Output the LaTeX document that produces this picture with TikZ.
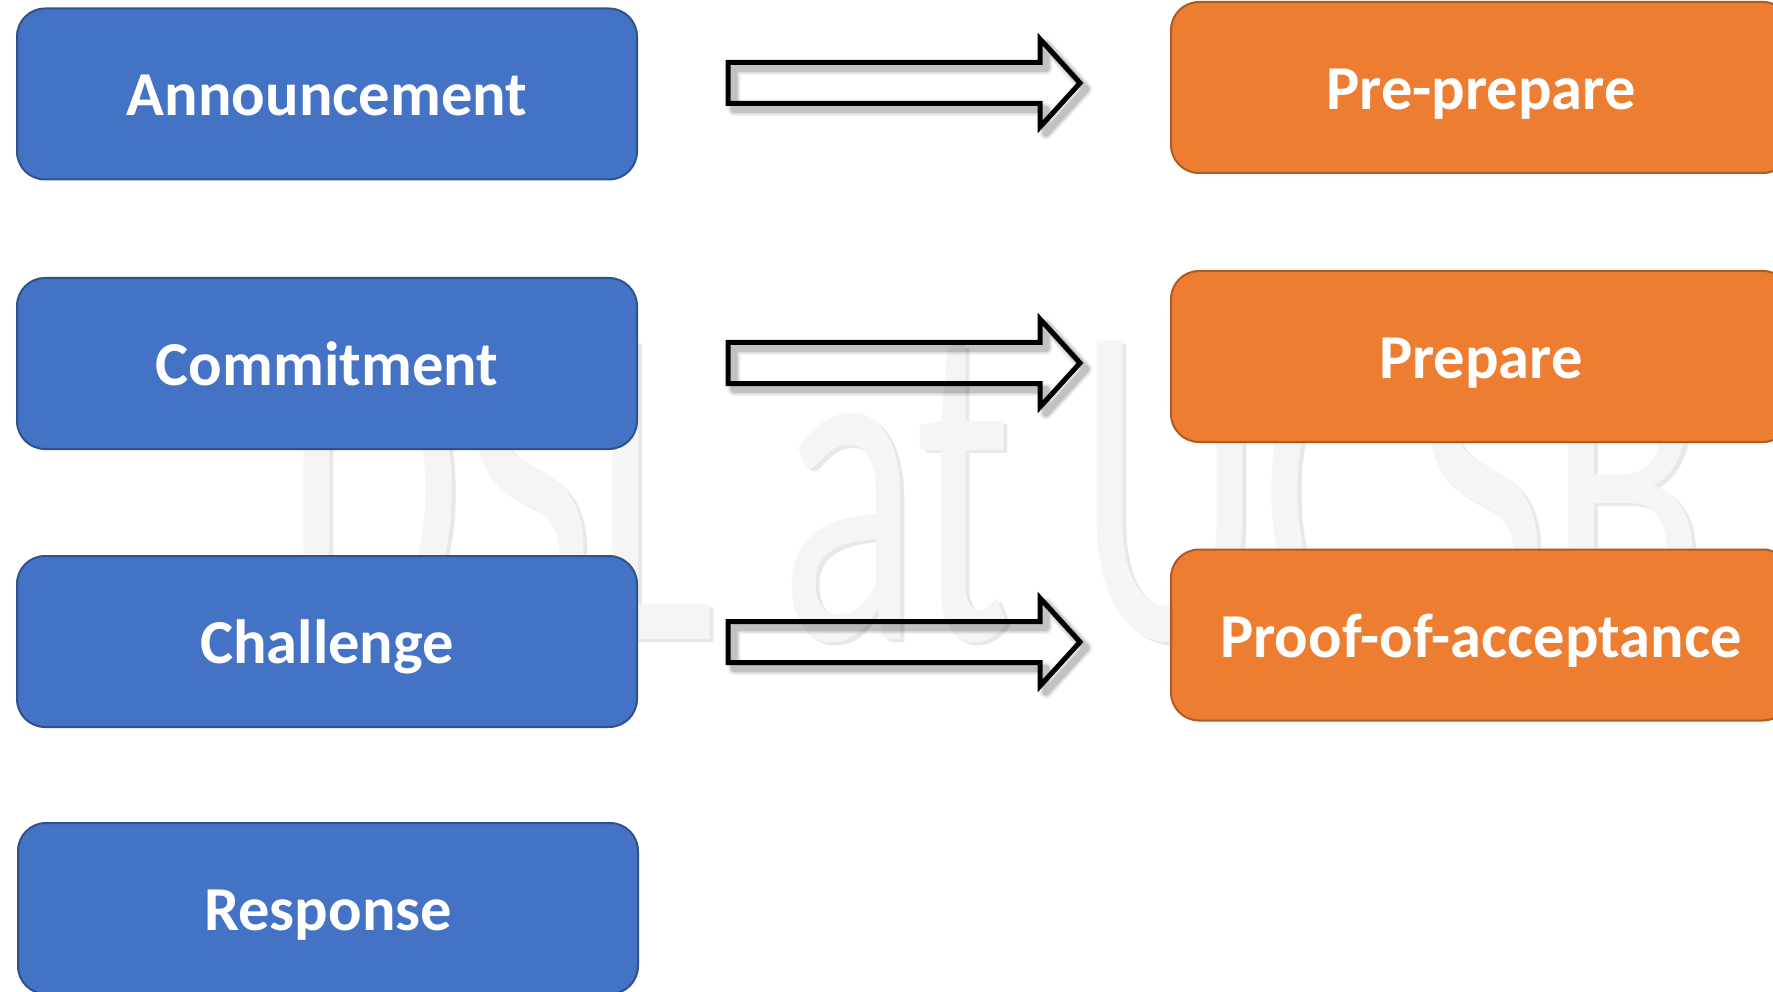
\documentclass[tikz,border=0pt]{standalone}
\usepackage{fontspec}
\setmainfont{Carlito}
\usetikzlibrary{calc}
\definecolor{bluefill}{HTML}{4472C4}
\definecolor{blueline}{HTML}{2F528F}
\definecolor{orangefill}{HTML}{ED7D31}
\definecolor{orangeline}{HTML}{AE5A21}
\newcommand\drawblockarrow[2]{%
  \foreach \w/\o in {13/0.06,10/0.08,7/0.12}{%
    \draw[line width=\w pt, draw=black, opacity=\o, line join=round,
      transform canvas={shift={(6,6)}}]
      ($(#1)+(0,-20.5)$) -- ($(#2)+(-40,-20.5)$) -- ($(#2)+(-40,-44)$) -- (#2)
      -- ($(#2)+(-40,44)$) -- ($(#2)+(-40,20.5)$) -- ($(#1)+(0,20.5)$) -- cycle;}
  \draw[blockarrow]
      ($(#1)+(0,-20.5)$) -- ($(#2)+(-40,-20.5)$) -- ($(#2)+(-40,-44)$) -- (#2)
      -- ($(#2)+(-40,44)$) -- ($(#2)+(-40,20.5)$) -- ($(#1)+(0,20.5)$) -- cycle;}
\begin{document}
\begin{tikzpicture}[x=1pt,y=-1pt,
  stage/.style={rounded corners=28pt, line width=2pt, minimum width=620pt,
    minimum height=171pt, inner sep=0pt, text=white,
    font=\fontsize{62.5}{62.5}\selectfont\bfseries, text height=44pt, text depth=0pt},
  leftstage/.style={stage, fill=bluefill, draw=blueline},
  rightstage/.style={stage, fill=orangefill, draw=orangeline},
  blockarrow/.style={draw=black, line width=5pt, fill=none, miter limit=10},
  wmark/.style={inner sep=0pt, anchor=base, font=\fontsize{465}{465}\selectfont},
  ]
\useasboundingbox (0,0) rectangle (1773,992);
\fill[white] (0,0) rectangle (1773,992);
% watermark
\node[wmark, text=black!9] (wmshadow) at (999,642) {\scalebox{0.62}[1]{DSL at UCSB}};
\node[wmark, text=black!4] (wm) at (995,639) {\scalebox{0.62}[1]{DSL at UCSB}};
% boxes
\node[leftstage] (L1) at (327,94) {Announcement};
\node[leftstage] (L2) at (327,363.5) {Commitment};
\node[leftstage] (L3) at (327,641.5) {Challenge};
\node[leftstage] (L4) at (328,908.5) {Response};
\node[rightstage] (R1) at (1481,87.5) {Pre-prepare};
\node[rightstage] (R2) at (1481,356.5) {Prepare};
\node[rightstage] (R3) at (1481,635) {Proof-of-acceptance};
% arrows
\coordinate (a1s) at (728,83);  \coordinate (a1e) at (1080,83);
\coordinate (a2s) at (728,363); \coordinate (a2e) at (1080,363);
\coordinate (a3s) at (728,642); \coordinate (a3e) at (1080,642);
\drawblockarrow{a1s}{a1e}
\drawblockarrow{a2s}{a2e}
\drawblockarrow{a3s}{a3e}
\end{tikzpicture}
\end{document}
